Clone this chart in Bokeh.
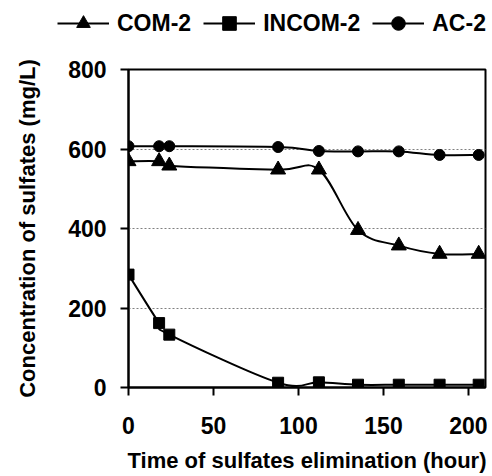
from bokeh.plotting import figure
from bokeh.models import Range1d, FixedTicker, Legend, LegendItem
from bokeh.embed import file_html
from bokeh.resources import INLINE

# ---- data ----
time_h = [0, 18, 24, 88, 112, 135, 159, 183, 206]
com2 = [569, 569, 558, 548, 548, 396, 357, 336, 336]
incom2 = [284, 162, 133, 12, 13, 7, 7, 7, 7]
ac2 = [607, 607, 607, 605, 595, 594, 594, 585, 585]
series_names = ["COM-2", "INCOM-2", "AC-2"]
x_ticks = [0, 50, 100, 150, 200]
y_ticks = [0, 200, 400, 600, 800]
grid_ticks = [200, 400, 600]
x_title = "Time of sulfates elimination (hour)"
y_title = "Concentration of sulfates (mg/L)"

FONT = "Liberation Sans"
MARKERS = [("triangle", 15), ("square", 11), ("circle", 11)]
LEG_H = 40


def smooth_segments(xs, ys):
    """Cubic Bezier control points (Excel-like smoothed line) from data points."""
    n = len(xs)
    seg = dict(x0=[], y0=[], x1=[], y1=[], cx0=[], cy0=[], cx1=[], cy1=[])
    for i in range(n - 1):
        pm = max(i - 1, 0)
        pp = min(i + 2, n - 1)
        seg["x0"].append(xs[i]); seg["y0"].append(ys[i])
        seg["x1"].append(xs[i + 1]); seg["y1"].append(ys[i + 1])
        seg["cx0"].append(xs[i] + (xs[i + 1] - xs[pm]) / 6.0)
        seg["cy0"].append(ys[i] + (ys[i + 1] - ys[pm]) / 6.0)
        seg["cx1"].append(xs[i + 1] - (xs[pp] - xs[i]) / 6.0)
        seg["cy1"].append(ys[i + 1] - (ys[pp] - ys[i]) / 6.0)
    return seg


# ---------------- main chart ----------------
p = figure(width=487, height=476 - LEG_H, output_backend="svg", toolbar_location=None,
           x_range=Range1d(0, 210), y_range=Range1d(0, 800),
           min_border_left=128, min_border_right=2, min_border_top=69 - LEG_H,
           min_border_bottom=476 - LEG_H - (69 - LEG_H) - 318)
p.background_fill_color = "white"
p.border_fill_color = "white"
p.outline_line_color = "black"
p.outline_line_width = 2

p.xgrid.visible = False
p.ygrid.ticker = FixedTicker(ticks=grid_ticks)
p.ygrid.grid_line_color = "#808080"
p.ygrid.grid_line_width = 1
p.ygrid.grid_line_dash = "2 2"

for ax, ticks in ((p.xaxis[0], x_ticks), (p.yaxis[0], y_ticks)):
    ax.ticker = FixedTicker(ticks=ticks)
    ax.axis_line_width = 2
    ax.axis_line_color = "black"
    ax.major_tick_line_width = 2
    ax.major_tick_line_color = "black"
    ax.major_tick_out = 8
    ax.major_tick_in = 0
    ax.minor_tick_line_color = None
    ax.major_label_text_font = FONT
    ax.major_label_text_font_style = "bold"
    ax.major_label_text_font_size = "23px"
    ax.major_label_text_color = "black"
    ax.axis_label_text_font = FONT
    ax.axis_label_text_font_style = "bold"
    ax.axis_label_text_font_size = "22px"
    ax.axis_label_text_color = "black"

p.xaxis.axis_label = x_title
p.yaxis.axis_label = y_title
p.xaxis.major_label_standoff = 21
p.xaxis.axis_label_standoff = 11
p.yaxis.major_label_standoff = 14
p.yaxis.axis_label_standoff = 25

for vals, (marker, size) in zip((com2, incom2, ac2), MARKERS):
    seg = smooth_segments(time_h, vals)
    p.bezier(x0=seg["x0"], y0=seg["y0"], x1=seg["x1"], y1=seg["y1"],
             cx0=seg["cx0"], cy0=seg["cy0"], cx1=seg["cx1"], cy1=seg["cy1"],
             line_color="black", line_width=2)
    p.scatter(time_h, vals, marker=marker, size=size,
              fill_color="black", line_color="black")

# ---------------- legend strip above (separate root, full-width frame) ----------------
lg = figure(width=487, height=LEG_H, output_backend="svg", toolbar_location=None,
            x_range=Range1d(-10, -9), y_range=Range1d(-10, -9),
            min_border=0, x_axis_location=None, y_axis_location=None)
lg.outline_line_color = None
lg.grid.visible = False
lg.background_fill_color = "white"
lg.border_fill_color = "white"

items = []
for name, vals, (marker, size) in zip(series_names, (com2, incom2, ac2), MARKERS):
    # same series, drawn outside this strip's view; only their legend symbols show
    rl = lg.line(x=time_h, y=vals, line_color="black", line_width=2)
    rm = lg.scatter(x=time_h, y=vals, marker=marker, size=size,
                    fill_color="black", line_color="black")
    items.append(LegendItem(label=name, renderers=[rl, rm]))

legend = Legend(items=items, orientation="horizontal", location=(57, 0),
                label_text_font=FONT, label_text_font_style="bold",
                label_text_font_size="23px", label_text_color="black",
                glyph_width=52, glyph_height=34, label_height=20,
                label_standoff=8, spacing=12, padding=0, margin=0,
                border_line_color=None, background_fill_alpha=0)
lg.add_layout(legend)

open("out.html", "w").write(file_html([lg, p], INLINE))
